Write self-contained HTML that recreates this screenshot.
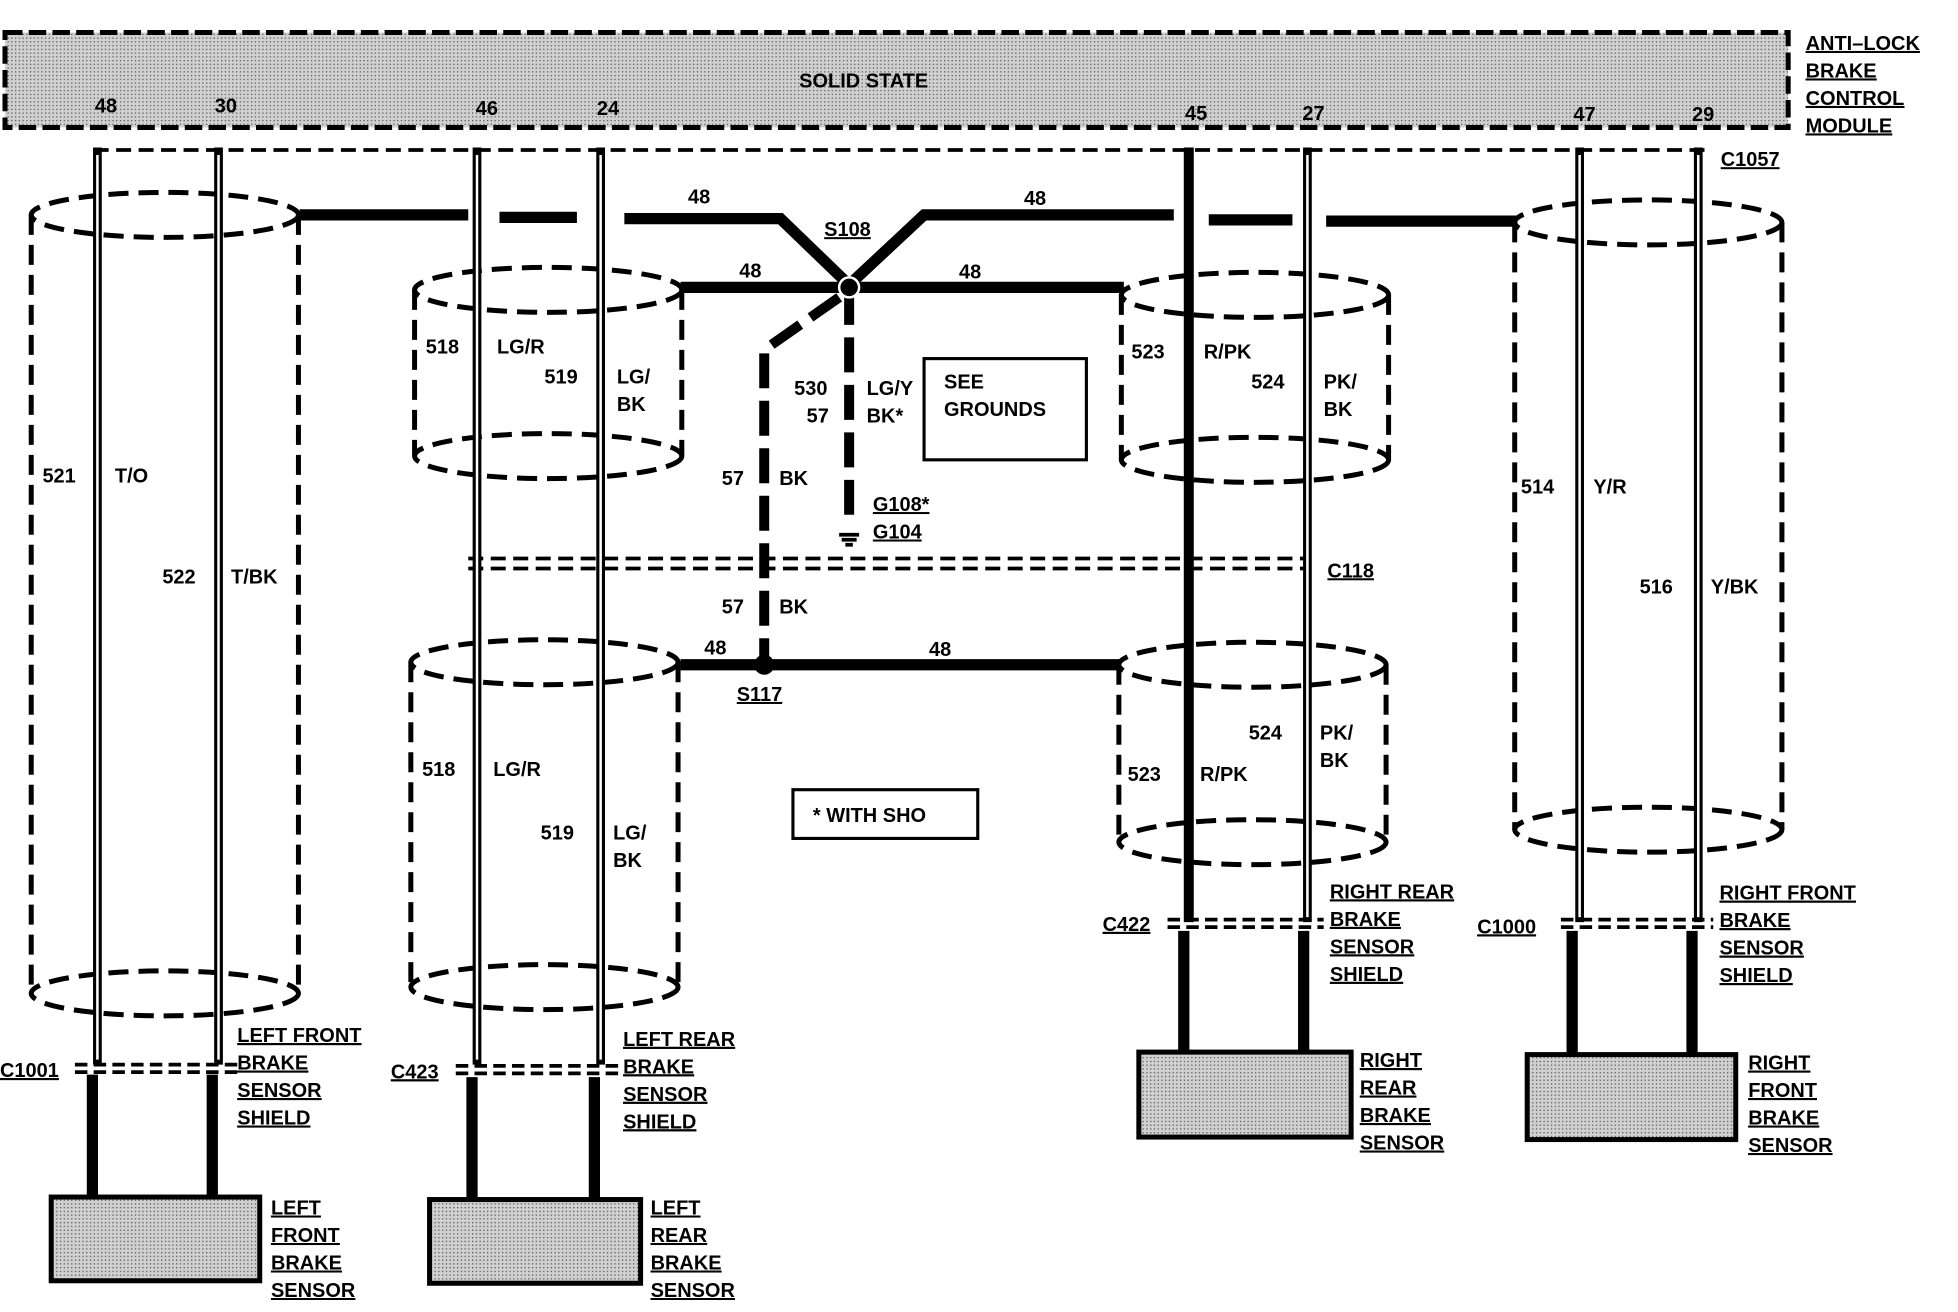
<!DOCTYPE html>
<html><head><meta charset="utf-8"><style>
html,body{margin:0;padding:0;background:#fff;}
svg{display:block;}
text{font-family:"Liberation Sans",Arial,sans-serif;font-weight:bold;font-size:16px;fill:#000;}
.u{text-decoration:underline;}
</style></head><body>
<svg width="1958" height="1312" viewBox="0 0 1568 1050" preserveAspectRatio="none" xmlns="http://www.w3.org/2000/svg">
<defs>
<pattern id="st" width="3" height="3" patternUnits="userSpaceOnUse"><rect width="3" height="3" fill="#d0d0d0"/><rect width="1" height="1" fill="#555"/></pattern>
</defs>
<!-- module -->
<rect x="4" y="26" width="1428" height="76" fill="url(#st)" stroke="#000" stroke-width="4" stroke-dasharray="14,5"/>
<text x="640" y="70" font-size="15">SOLID STATE</text>
<g font-size="10">
<text x="76" y="90">48</text><text x="172" y="90">30</text><text x="381" y="92">46</text><text x="478" y="92">24</text>
<text x="949" y="96">45</text><text x="1043" y="96">27</text><text x="1260" y="97">47</text><text x="1355" y="97">29</text>
</g>
<g class="u"><text x="1446" y="40" text-decoration="underline">ANTI–LOCK</text><text x="1446" y="62" text-decoration="underline">BRAKE</text><text x="1446" y="84" text-decoration="underline">CONTROL</text><text x="1446" y="106" text-decoration="underline">MODULE</text></g>
<!-- C1057 -->
<path d="M75 120 H1365" stroke="#000" stroke-width="3" stroke-dasharray="12,6" fill="none"/>
<text x="1378" y="133" text-decoration="underline">C1057</text>
<!-- shield wires -->
<g stroke="#000" stroke-width="9" fill="none">
<path d="M240 172 H375 M400 174 H462 M500 175 H625 L680 228 L740 172 H940 M968 176 H1035 M1062 177 H1215"/>
<path d="M545 230 H900"/>
<path d="M545 532 H897"/>
</g>
<g stroke="#000" stroke-width="8" fill="none" stroke-dasharray="28,10">
<path d="M680 232 V420"/>
<path d="M672 238 L612 280 V532"/>
</g>
<circle cx="680" cy="230" r="8" fill="#000" stroke="#fff" stroke-width="2"/>
<circle cx="612" cy="532" r="8" fill="#000"/>
<!-- ground -->
<path d="M672 428 h16 M674 432 h12 M677 436 h6" stroke="#000" stroke-width="3"/>
<!-- C118 -->
<path d="M375 447 H1050 M375 455 H1050" stroke="#000" stroke-width="3" stroke-dasharray="12,6"/>
<text x="1063" y="462" text-decoration="underline">C118</text>
<!-- cylinders -->
<g stroke="#000" stroke-width="4" fill="none" stroke-dasharray="16,8">
<ellipse cx="132" cy="172" rx="107" ry="18"/><ellipse cx="132" cy="795" rx="107" ry="18"/>
<path d="M25 172 V795 M239 172 V795"/>
<ellipse cx="439" cy="232" rx="107" ry="18"/><ellipse cx="439" cy="365" rx="107" ry="18"/>
<path d="M332 232 V365 M546 232 V365"/>
<ellipse cx="1005" cy="236" rx="107" ry="18"/><ellipse cx="1005" cy="368" rx="107" ry="18"/>
<path d="M898 236 V368 M1112 236 V368"/>
<ellipse cx="1320" cy="178" rx="107" ry="18"/><ellipse cx="1320" cy="664" rx="107" ry="18"/>
<path d="M1213 178 V664 M1427 178 V664"/>
<ellipse cx="436" cy="530" rx="107" ry="18"/><ellipse cx="436" cy="790" rx="107" ry="18"/>
<path d="M329 530 V790 M543 530 V790"/>
<ellipse cx="1003" cy="532" rx="107" ry="18"/><ellipse cx="1003" cy="674" rx="107" ry="18"/>
<path d="M896 532 V674 M1110 532 V674"/>
</g>
<!-- wires hollow -->
<g stroke="#000" stroke-width="7" fill="none">
<path d="M78 118 V852 M175 118 V852 M382 118 V852 M481 118 V852 M1047 118 V738 M1265 118 V738 M1360 118 V738"/>
</g>
<g stroke="#fff" stroke-width="2" fill="none">
<path d="M78 124 V848 M175 124 V848 M382 124 V848 M481 124 V848 M1047 124 V734 M1265 124 V734 M1360 124 V734"/>
</g>
<path d="M952 118 V738" stroke="#000" stroke-width="8"/>
<!-- lower connectors -->
<g stroke="#000" stroke-width="3" stroke-dasharray="10,5">
<path d="M60 852 H190 M60 858 H190 M365 853 H495 M365 859 H495 M935 736 H1060 M935 742 H1060 M1250 736 H1372 M1250 742 H1372"/>
</g>
<g stroke="#000" stroke-width="9">
<path d="M74 860 V958 M170 860 V958 M378 862 V960 M476 862 V960 M948 745 V842 M1044 745 V842 M1259 745 V844 M1355 745 V844"/>
</g>
<!-- sensors -->
<g fill="url(#st)" stroke="#000" stroke-width="4">
<rect x="41" y="958" width="167" height="67"/><rect x="344" y="960" width="169" height="67"/>
<rect x="912" y="842" width="170" height="68"/><rect x="1223" y="844" width="167" height="68"/>
</g>
<!-- boxes -->
<rect x="740" y="287" width="130" height="81" fill="none" stroke="#000" stroke-width="2.5"/>
<text x="756" y="311">SEE</text><text x="756" y="333">GROUNDS</text>
<rect x="635" y="632" width="148" height="39" fill="none" stroke="#000" stroke-width="2.5"/>
<text x="651" y="658">* WITH SHO</text>
<!-- labels -->
<text x="551" y="163">48</text><text x="820" y="164">48</text><text x="660" y="189" text-decoration="underline">S108</text>
<text x="592" y="222">48</text><text x="768" y="223">48</text>
<text x="636" y="316">530</text><text x="694" y="316">LG/Y</text><text x="646" y="338">57</text><text x="694" y="338">BK*</text>
<text x="578" y="388">57</text><text x="624" y="388">BK</text>
<text x="699" y="409" text-decoration="underline">G108*</text><text x="699" y="431" text-decoration="underline">G104</text>
<text x="578" y="491">57</text><text x="624" y="491">BK</text>
<text x="564" y="524">48</text><text x="744" y="525">48</text><text x="590" y="561" text-decoration="underline">S117</text>
<text x="34" y="386">521</text><text x="92" y="386">T/O</text>
<text x="130" y="467">522</text><text x="185" y="467">T/BK</text>
<text x="341" y="283">518</text><text x="398" y="283">LG/R</text>
<text x="436" y="307">519</text><text x="494" y="307">LG/</text><text x="494" y="329">BK</text>
<text x="338" y="621">518</text><text x="395" y="621">LG/R</text>
<text x="433" y="672">519</text><text x="491" y="672">LG/</text><text x="491" y="694">BK</text>
<text x="906" y="287">523</text><text x="964" y="287">R/PK</text>
<text x="1002" y="311">524</text><text x="1060" y="311">PK/</text><text x="1060" y="333">BK</text>
<text x="903" y="625">523</text><text x="961" y="625">R/PK</text>
<text x="1000" y="592">524</text><text x="1057" y="592">PK/</text><text x="1057" y="614">BK</text>
<text x="1218" y="395">514</text><text x="1276" y="395">Y/R</text>
<text x="1313" y="475">516</text><text x="1370" y="475">Y/BK</text>
<g text-decoration="underline">
<text x="0" y="862" text-decoration="underline">C1001</text><text x="313" y="863" text-decoration="underline">C423</text>
<text x="883" y="745" text-decoration="underline">C422</text><text x="1183" y="747" text-decoration="underline">C1000</text>
<text x="190" y="834" text-decoration="underline">LEFT FRONT</text><text x="190" y="856" text-decoration="underline">BRAKE</text><text x="190" y="878" text-decoration="underline">SENSOR</text><text x="190" y="900" text-decoration="underline">SHIELD</text>
<text x="499" y="837" text-decoration="underline">LEFT REAR</text><text x="499" y="859" text-decoration="underline">BRAKE</text><text x="499" y="881" text-decoration="underline">SENSOR</text><text x="499" y="903" text-decoration="underline">SHIELD</text>
<text x="1065" y="719" text-decoration="underline">RIGHT REAR</text><text x="1065" y="741" text-decoration="underline">BRAKE</text><text x="1065" y="763" text-decoration="underline">SENSOR</text><text x="1065" y="785" text-decoration="underline">SHIELD</text>
<text x="1377" y="720" text-decoration="underline">RIGHT FRONT</text><text x="1377" y="742" text-decoration="underline">BRAKE</text><text x="1377" y="764" text-decoration="underline">SENSOR</text><text x="1377" y="786" text-decoration="underline">SHIELD</text>
<text x="217" y="972" text-decoration="underline">LEFT</text><text x="217" y="994" text-decoration="underline">FRONT</text><text x="217" y="1016" text-decoration="underline">BRAKE</text><text x="217" y="1038" text-decoration="underline">SENSOR</text>
<text x="521" y="972" text-decoration="underline">LEFT</text><text x="521" y="994" text-decoration="underline">REAR</text><text x="521" y="1016" text-decoration="underline">BRAKE</text><text x="521" y="1038" text-decoration="underline">SENSOR</text>
<text x="1089" y="854" text-decoration="underline">RIGHT</text><text x="1089" y="876" text-decoration="underline">REAR</text><text x="1089" y="898" text-decoration="underline">BRAKE</text><text x="1089" y="920" text-decoration="underline">SENSOR</text>
<text x="1400" y="856" text-decoration="underline">RIGHT</text><text x="1400" y="878" text-decoration="underline">FRONT</text><text x="1400" y="900" text-decoration="underline">BRAKE</text><text x="1400" y="922" text-decoration="underline">SENSOR</text>
</g>
</svg>
</body></html>
